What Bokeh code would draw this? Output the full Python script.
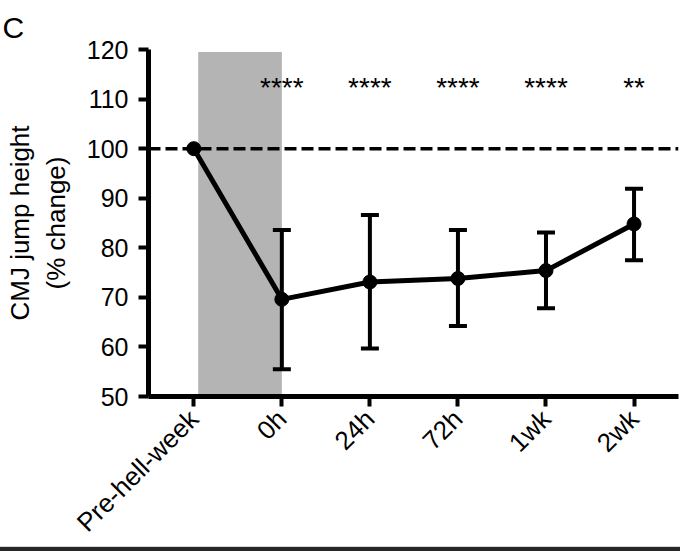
import math
from bokeh.plotting import figure
from bokeh.models import Span, FixedTicker, Range1d, Title
from bokeh.embed import file_html
from bokeh.resources import INLINE
from bokeh.core.properties import value

# ---- data ----
timepoints = ["Pre-hell-week", "0h", "24h", "72h", "1wk", "2wk"]
cmj_mean = [100.0, 69.6, 73.1, 73.8, 75.4, 84.8]
cmj_upper = [100.0, 83.6, 86.6, 83.6, 83.1, 91.9]
cmj_lower = [100.0, 55.5, 59.7, 64.2, 67.8, 77.5]
significance = ["", "****", "****", "****", "****", "**"]
y_ticks = [50, 60, 70, 80, 90, 100, 110, 120]
baseline_pct = 100
hell_week = ["Pre-hell-week", "0h"]   # shaded interval

FONT = "Liberation Sans"
xs = list(range(len(timepoints)))

p = figure(width=680, height=551, output_backend="svg", toolbar_location=None,
           x_range=Range1d(-0.5145, 5.505), y_range=Range1d(50, 120),
           min_border_left=148, min_border_right=2, min_border_top=49,
           min_border_bottom=153, background_fill_color="white",
           border_fill_color=None,
           styles={"background": "linear-gradient(to bottom, #ffffff 0px, #ffffff 546px, "
                                 "#d9d9d9 546px, #d9d9d9 547px, #262626 547px, #262626 551px)"})
p.outline_line_color = None
p.grid.visible = False

# panel letter
p.title = Title(text="C", align="left", offset=-146, text_font=FONT,
                text_font_size="30px", text_font_style="normal", text_color="black",
                vertical_align="top", standoff=8)

# shaded hell-week interval
i0, i1 = timepoints.index(hell_week[0]), timepoints.index(hell_week[1])
p.quad(left=[i0 + 0.05], right=[i1], bottom=[48], top=[119.5],
       fill_color="#b4b4b4", line_color=None)

# dashed baseline
p.add_layout(Span(location=baseline_pct, dimension="width", line_color="black",
                  line_width=3.5, line_dash="12 5"))

# mean line
p.line(xs, cmj_mean, line_color="black", line_width=5)

# error bars (not for the baseline point)
ex, eu, el = xs[1:], cmj_upper[1:], cmj_lower[1:]
p.segment(x0=ex, y0=el, x1=ex, y1=eu, line_color="black", line_width=4)
p.scatter(ex, eu, marker="dash", size=18, line_color="black", line_width=4)
p.scatter(ex, el, marker="dash", size=18, line_color="black", line_width=4)

p.scatter(xs, cmj_mean, size=14, fill_color="black", line_color="black")

# significance stars
p.text(x=xs, y=[112.4] * len(xs), text=significance, text_align="center",
       text_baseline="alphabetic", text_font=value(FONT), text_font_size="28px",
       text_color="black")

# axes
for ax in (p.xaxis[0], p.yaxis[0]):
    ax.axis_line_width = 5
    ax.axis_line_color = "black"
    ax.major_tick_line_width = 4
    ax.major_tick_line_color = "black"
    ax.major_tick_out = 10
    ax.major_tick_in = 0
    ax.minor_tick_line_color = None
    ax.major_label_text_font = FONT
    ax.major_label_text_color = "black"

p.yaxis.ticker = FixedTicker(ticks=y_ticks)
p.yaxis.major_label_text_font_size = "25px"
p.yaxis.major_label_standoff = 10
p.yaxis.axis_label = "CMJ jump height\n(% change)"
p.yaxis.axis_label_text_font = FONT
p.yaxis.axis_label_text_font_size = "26px"
p.yaxis.axis_label_text_font_style = "normal"
p.yaxis.axis_label_text_color = "black"
p.yaxis.axis_label_standoff = 13

p.xaxis.ticker = FixedTicker(ticks=xs)
p.xaxis.major_label_overrides = {i: t for i, t in enumerate(timepoints)}
p.xaxis.major_label_orientation = math.pi / 4
p.xaxis.major_label_text_font_size = "26px"
p.xaxis.major_label_standoff = 8

open("out.html", "w").write(file_html(p, INLINE))
